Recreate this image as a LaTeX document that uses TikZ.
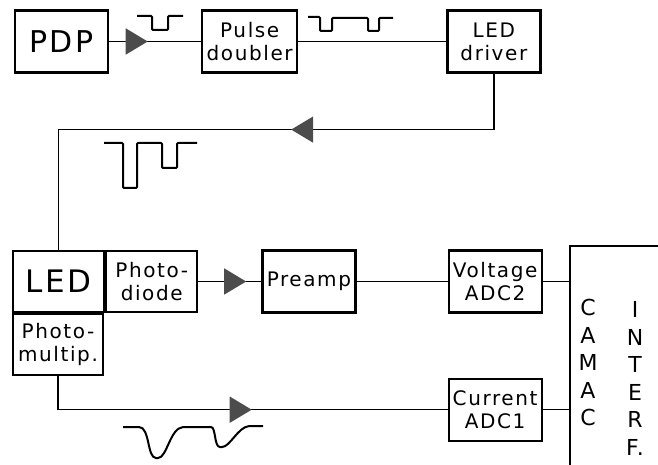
\documentclass[tikz,border=0pt]{standalone}
\usepackage{fontspec}
\setmainfont{DejaVu Sans}[LetterSpace=8]
\usetikzlibrary{positioning,arrows.meta,decorations.markings}

\begin{document}
\begin{tikzpicture}[
    x=1pt, y=-1pt,
    box/.style={draw, line width=2.2pt, minimum width=93pt, minimum height=62pt, inner sep=0pt, align=center, font=\fontsize{20}{23}\selectfont},
    line/.style={line width=1.5pt},
    wave/.style={line width=2pt, rounded corners=1pt},
    midtri/.style={postaction={decorate}, decoration={markings, mark=at position #1 with {\arrow[fill=black!70, draw=black!70]{Triangle[length=22pt,width=26pt]}}}}
]
\useasboundingbox (0,0) rectangle (658,465);
\clip (0,0) rectangle (658,465);
% top row
\node[box, font=\fontsize{30}{30}\selectfont] (pdp) at (61.5,41.5) {PDP};
\node[box, right=92pt of pdp, minimum width=95pt] (doubler) {Pulse\\doubler};
\node[box, right=148pt of doubler] (driver) {LED\\driver};
% bottom rows
\node[box, font=\fontsize{31}{31}\selectfont, minimum width=91pt, minimum height=61pt] (led) at (58.5,281.5) {LED};
\node[box, anchor=west, minimum width=91pt, minimum height=61pt] (diode) at (led.east) {Photo-\\diode};
\node[box, anchor=north west, minimum width=90pt, minimum height=61pt] (pmt) at (led.south west) {Photo-\\multip.};
\node[box, right=63pt of diode] (preamp) {Preamp};
\node[box, right=91pt of preamp] (vadc) {Voltage\\ADC2};
\node[box, below=64pt of vadc] (cadc) {Current\\ADC1};
% interface
\node[draw, line width=2.2pt, anchor=north west, minimum width=140pt, minimum height=260pt] (camac) at (569,245) {};
\node[anchor=north, align=center, font=\fontsize{22}{27.5}\selectfont] (camactxt) at (588,296) {C\\A\\M\\A\\C};
\node[anchor=north, align=center, font=\fontsize{22}{27.5}\selectfont] (interftxt) at (635,298) {I\\N\\T\\E\\R\\F.};
% connectors
\draw[line, midtri=0.42] (pdp) -- (doubler);
\draw[line] (doubler) -- (driver);
\draw[line, midtri=0.423] (driver.south) -- ++(0,56) -| (led.north);
\draw[line, midtri=0.76] (diode) -- (preamp);
\draw[line] (preamp) -- (vadc);
\draw[line] (vadc) -- (vadc -| camac.west);
\draw[line] (cadc) -- (cadc -| camac.west);
\draw[line, midtri=0.537] (pmt.south) |- (cadc.west);
% pulse shapes
\draw[wave] (137,16) -- (152,16) -- (152,30) -- (168,30) -- (168,16) -- (183,16);
\draw[wave] (308,17) -- (320,17) -- (320,31) -- (332,31) -- (332,18) -- (368,18) -- (368,31) -- (379,31) -- (379,18) -- (393,18);
\draw[wave] (104,143) -- (123,143) -- (123,188) -- (137,188) -- (137,143) -- (162,143) -- (162,168) -- (177,168) -- (177,143) -- (197,143);
\draw[wave] (123,427) -- (138,427) .. controls (150,427) and (147,458) .. (157,458) .. controls (167,458) and (170,428) .. (184,427) -- (210,427) .. controls (216,427) and (214,447) .. (221,447) .. controls (230,447) and (238,427) .. (250,426) -- (263,426);
\end{tikzpicture}
\end{document}
